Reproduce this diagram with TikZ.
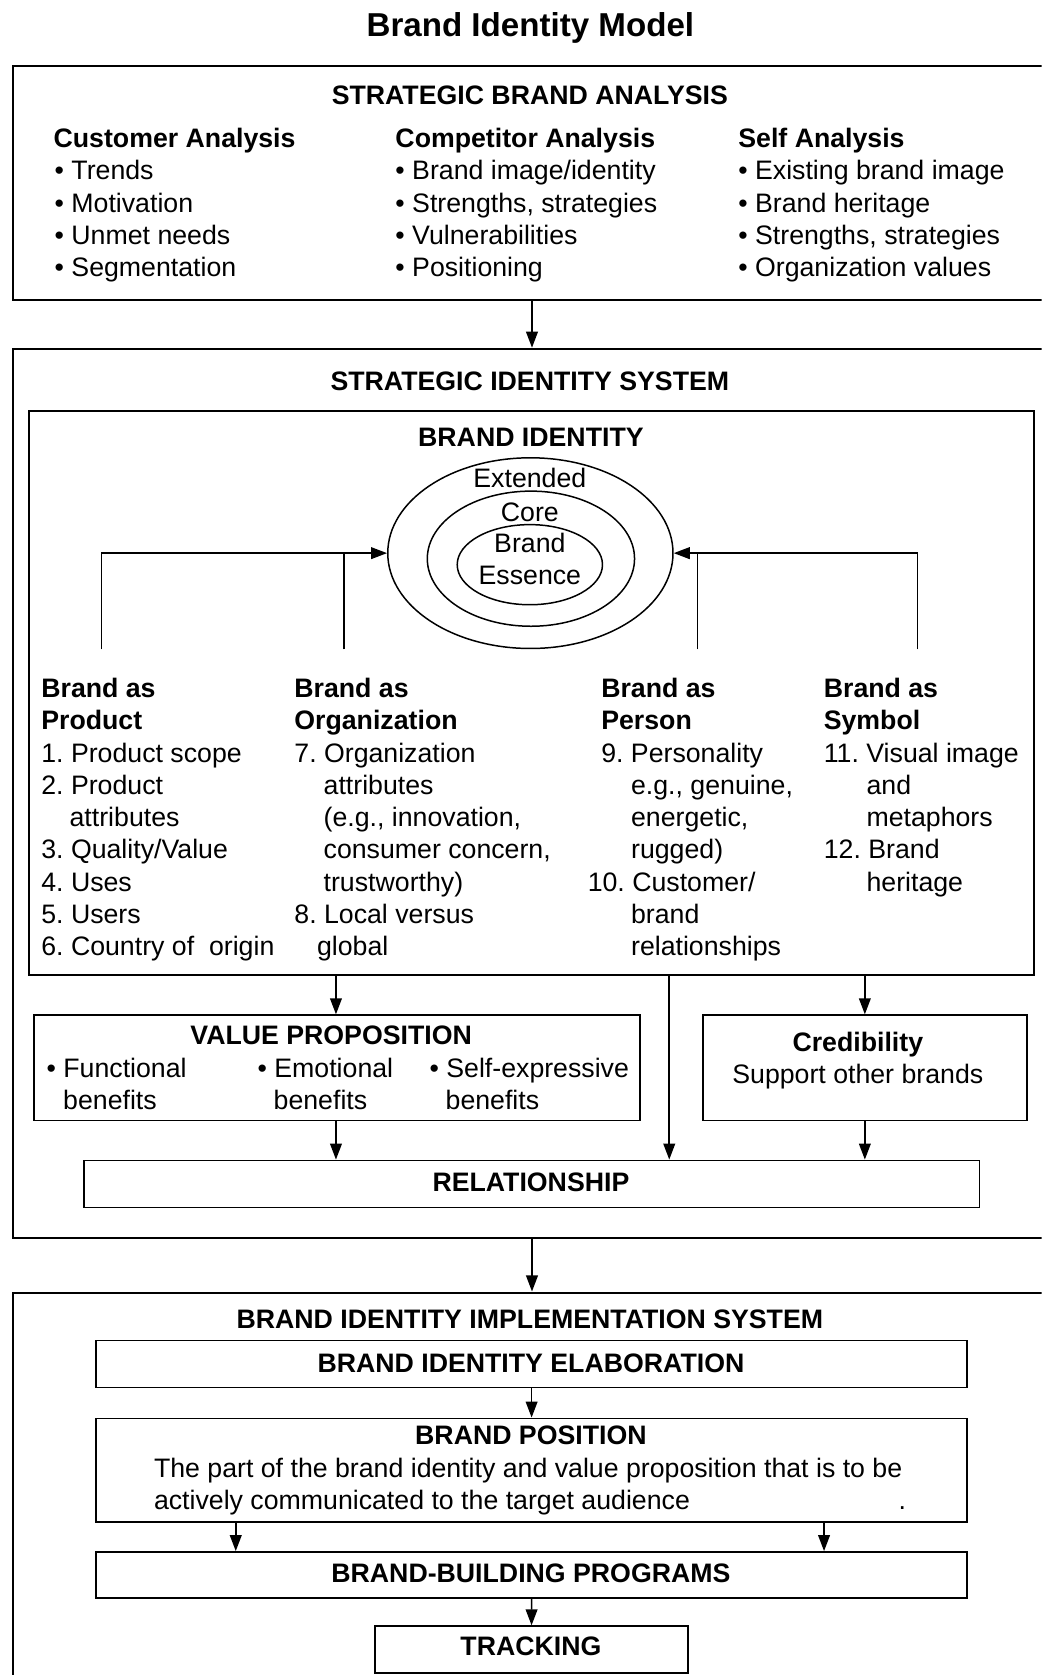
\documentclass[tikz,border=0pt]{standalone}
\usepackage{fontspec}
\setmainfont{Liberation Sans}
\usetikzlibrary{arrows.meta,shapes.geometric}
\tikzset{
  txt/.style={inner sep=0pt, anchor=base west, font=\fontsize{25}{30}\selectfont\frenchspacing},
  txb/.style={inner sep=0pt, anchor=base west, font=\fontsize{25}{30}\selectfont\bfseries\frenchspacing},
  ctr/.style={anchor=base},
  outerbox/.style={draw, line width=2pt, anchor=north west, inner sep=0pt},
  box/.style={draw, line width=1.7pt, anchor=north west, inner sep=0pt},
  ell/.style={draw, ellipse, line width=1.4pt, inner sep=0pt},
  ln/.style={line width=1.5pt},
  arr/.style={line width=1.5pt, -{Triangle[length=15pt,width=11pt]}},
}
\begin{document}
\frenchspacing
\begin{tikzpicture}[x=1pt,y=-1pt]
\useasboundingbox (0,0) rectangle (975,1568);
\clip (0,0) rectangle (975,1568);
\fill[white] (0,0) rectangle (975,1568);

% title
\node[txb,ctr,font=\fontsize{31}{36}\selectfont\bfseries] (title) at (496.5,34.4) {Brand Identity Model};

% ---------------- Box 1: strategic brand analysis
\node[outerbox, minimum width=972pt, minimum height=219pt] (sba) at (11,61) {};
\node[txb,ctr] (sbaT) at (496,98) {STRATEGIC BRAND ANALYSIS};
\node[txb] (caH) at (50,138.5) {Customer Analysis};
\node[txt] (ca1) at (51,168.5) {• Trends};
\node[txt] (ca2) at (51,198.7) {• Motivation};
\node[txt] (ca3) at (51,228.9) {• Unmet needs};
\node[txt] (ca4) at (51,259.1) {• Segmentation};
\node[txb] (coH) at (370,138.5) {Competitor Analysis};
\node[txt] (co1) at (370,168.5) {• Brand image/identity};
\node[txt] (co2) at (370,198.7) {• Strengths, strategies};
\node[txt] (co3) at (370,228.9) {• Vulnerabilities};
\node[txt] (co4) at (370,259.1) {• Positioning};
\node[txb] (seH) at (691,138.5) {Self Analysis};
\node[txt] (se1) at (691,168.5) {• Existing brand image};
\node[txt] (se2) at (691,198.7) {• Brand heritage};
\node[txt] (se3) at (691,228.9) {• Strengths, strategies};
\node[txt] (se4) at (691,259.1) {• Organization values};

% ---------------- Box 2: strategic identity system
\node[outerbox, minimum width=972pt, minimum height=832.5pt] (sis) at (11,325.5) {};
\node[txb,ctr] (sisT) at (496,366) {STRATEGIC IDENTITY SYSTEM};
\draw[arr] (sba.south) -- (sis.north);

\node[box, minimum width=941pt, minimum height=528pt] (bi) at (26,384) {};
\node[txb,ctr] (biT) at (497,418) {BRAND IDENTITY};

\node[ell, minimum width=267pt, minimum height=178.5pt] (ext) at (496.5,517.8) {};
\node[ell, minimum width=194pt, minimum height=126.5pt] (core) at (497,523) {};
\node[ell, minimum width=136pt, minimum height=75pt] (ess) at (496,528.6) {};
\node[txt,ctr] (extT) at (496,456) {Extended};
\node[txt,ctr] (coreT) at (496,488) {Core};
\node[txt,ctr] (essT1) at (496,517) {Brand};
\node[txt,ctr] (essT2) at (496,547) {Essence};

\coordinate (vP) at (95,608);
\coordinate (vO) at (322,608);
\coordinate (vR) at (653,608);
\coordinate (vS) at (859,608);
\draw[arr] (vP) |- (ext.west);
\draw[ln] (vO) -- (vO |- ext.west);
\draw[arr] (vS) |- (ext.east);
\draw[ln] (vR) -- (vR |- ext.east);

% product column
\node[txb] (p0) at (38.5,653) {Brand as};
\node[txb] (p1) at (38.5,683.2) {Product};
\node[txt] (p2) at (38.5,713.4) {1. Product scope};
\node[txt] (p3) at (38.5,743.6) {2. Product};
\node[txt] (p4) at (65,773.8) {attributes};
\node[txt] (p5) at (38.5,804) {3. Quality/Value};
\node[txt] (p6) at (38.5,834.2) {4. Uses};
\node[txt] (p7) at (38.5,864.4) {5. Users};
\node[txt] (p8) at (38.5,894.6) {6. Country of\ \ origin};
% organization column
\node[txb] (o0) at (275.4,653) {Brand as};
\node[txb] (o1) at (275.4,683.2) {Organization};
\node[txt] (o2) at (275.4,713.4) {7. Organization};
\node[txt] (o3) at (302.8,743.6) {attributes};
\node[txt] (o4) at (302.8,773.8) {(e.g., innovation,};
\node[txt] (o5) at (302.8,804) {consumer concern,};
\node[txt] (o6) at (302.8,834.2) {trustworthy)};
\node[txt] (o7) at (275.4,864.4) {8. Local versus};
\node[txt] (o8) at (296.6,894.6) {global};
% person column
\node[txb] (r0) at (562.7,653) {Brand as};
\node[txb] (r1) at (562.7,683.2) {Person};
\node[txt] (r2) at (562.7,713.4) {9. Personality};
\node[txt] (r3) at (590.6,743.6) {e.g., genuine,};
\node[txt] (r4) at (590.6,773.8) {energetic,};
\node[txt] (r5) at (590.6,804) {rugged)};
\node[txt] (r6) at (550,834.2) {10. Customer/};
\node[txt] (r7) at (590.6,864.4) {brand};
\node[txt] (r8) at (590.6,894.6) {relationships};
% symbol column
\node[txb] (s0) at (771,653) {Brand as};
\node[txb] (s1) at (771,683.2) {Symbol};
\node[txt] (s2) at (771,713.4) {11. Visual image};
\node[txt] (s3) at (811,743.6) {and};
\node[txt] (s4) at (811,773.8) {metaphors};
\node[txt] (s5) at (771,804) {12. Brand};
\node[txt] (s6) at (811,834.2) {heritage};

% value proposition
\node[box, minimum width=567pt, minimum height=98.5pt] (vp) at (31,949.5) {};
\node[txb,ctr] (vpT) at (310,977.5) {VALUE PROPOSITION};
\node[txt] (vp1) at (43.5,1008.5) {• Functional};
\node[txt] (vp1b) at (59,1038.7) {benefits};
\node[txt] (vp2) at (241,1008.5) {• Emotional};
\node[txt] (vp2b) at (256,1038.7) {benefits};
\node[txt] (vp3) at (402,1008.5) {• Self-expressive};
\node[txt] (vp3b) at (417,1038.7) {benefits};

% credibility
\node[box, minimum width=303.5pt, minimum height=98.5pt] (cred) at (657,949.5) {};
\node[txb,ctr] (credT) at (803,984) {Credibility};
\node[txt,ctr] (credS) at (803,1014) {Support other brands};

% relationship
\node[box, minimum width=838.3pt, minimum height=44pt] (rel) at (77.7,1085.5) {};
\node[txb,ctr] (relT) at (497,1115) {RELATIONSHIP};

\coordinate (cA) at (314.5,0);
\coordinate (cB) at (626.5,0);
\draw[arr] (bi.south -| cA) -- (vp.north -| cA);
\draw[arr] (bi.south -| cB) -- (rel.north -| cB);
\draw[arr] (bi.south -| cred.north) -- (cred.north);
\draw[arr] (vp.south -| cA) -- (rel.north -| cA);
\draw[arr] (cred.south) -- (rel.north -| cred.south);

% ---------------- Box 3: implementation system
\node[outerbox, minimum width=972pt, minimum height=420pt] (bis) at (11,1209) {};
\draw[arr] (sis.south) -- (bis.north);
\node[txb,ctr] (bisT) at (496,1244) {BRAND IDENTITY IMPLEMENTATION SYSTEM};

\node[box, minimum width=815.6pt, minimum height=44pt] (elab) at (89,1254) {};
\node[txb,ctr] (elabT) at (497,1284.5) {BRAND IDENTITY ELABORATION};

\node[box, minimum width=815.6pt, minimum height=97pt] (pos) at (89,1327) {};
\node[txb,ctr] (posT) at (497,1352) {BRAND POSITION};
\node[txt] (pos1) at (144,1383) {The part of the brand identity and value proposition that is to be};
\node[txt] (pos2) at (144,1412.6) {actively communicated to the target audience};
\node[txt] (pos3) at (841,1412.6) {.};

\node[box, minimum width=815.6pt, minimum height=43pt] (prog) at (89,1452) {};
\node[txb,ctr] (progT) at (497,1481) {BRAND-BUILDING PROGRAMS};

\node[box, minimum width=293.5pt, minimum height=43.5pt] (track) at (350,1521.5) {};
\node[txb,ctr] (trackT) at (497,1550) {TRACKING};

\draw[arr] (elab.south) -- (pos.north);
\draw[arr] ([xshift=131.7pt]pos.south west) -- ([xshift=131.7pt]prog.north west);
\draw[arr] ([xshift=-134.9pt]pos.south east) -- ([xshift=-134.9pt]prog.north east);
\draw[arr] (prog.south) -- (track.north);
\end{tikzpicture}
\end{document}
